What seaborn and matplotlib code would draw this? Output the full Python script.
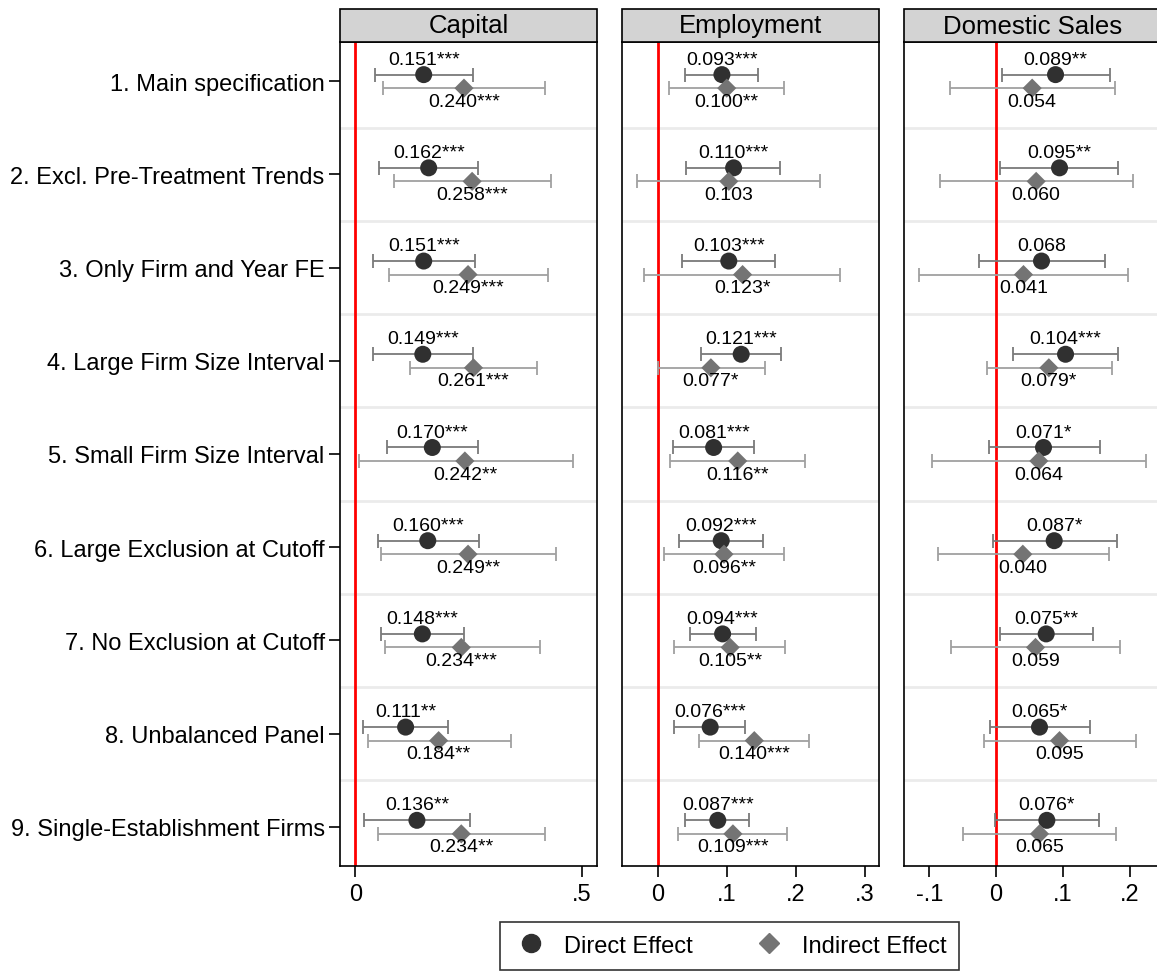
import numpy as np
import pandas as pd
import matplotlib
matplotlib.use("Agg")
import matplotlib.pyplot as plt
from matplotlib.patches import Rectangle
from matplotlib.lines import Line2D
import seaborn as sns

# specifications (rows)
specs = [
    "1. Main specification",
    "2. Excl. Pre-Treatment Trends",
    "3. Only Firm and Year FE",
    "4. Large Firm Size Interval",
    "5. Small Firm Size Interval",
    "6. Large Exclusion at Cutoff",
    "7. No Exclusion at Cutoff",
    "8. Unbalanced Panel",
    "9. Single-Establishment Firms",
]
outcomes = ["Capital", "Employment", "Domestic Sales"]

# Capital
cap_dir = [0.151, 0.162, 0.151, 0.149, 0.170, 0.160, 0.148, 0.111, 0.136]
cap_dir_lo = [0.044, 0.053, 0.039, 0.039, 0.070, 0.049, 0.057, 0.017, 0.018]
cap_dir_hi = [0.260, 0.272, 0.264, 0.260, 0.272, 0.274, 0.241, 0.205, 0.254]
cap_dir_star = ["***", "***", "***", "***", "***", "***", "***", "**", "**"]
cap_ind = [0.240, 0.258, 0.249, 0.261, 0.242, 0.249, 0.234, 0.184, 0.234]
cap_ind_lo = [0.062, 0.086, 0.075, 0.121, 0.007, 0.057, 0.066, 0.027, 0.049]
cap_ind_hi = [0.420, 0.432, 0.425, 0.402, 0.480, 0.444, 0.407, 0.344, 0.420]
cap_ind_star = ["***", "***", "***", "***", "**", "**", "***", "**", "**"]

# Employment
emp_dir = [0.093, 0.110, 0.103, 0.121, 0.081, 0.092, 0.094, 0.076, 0.087]
emp_dir_lo = [0.039, 0.041, 0.035, 0.063, 0.022, 0.031, 0.047, 0.024, 0.040]
emp_dir_hi = [0.145, 0.178, 0.170, 0.179, 0.140, 0.152, 0.142, 0.126, 0.133]
emp_dir_star = ["***", "***", "***", "***", "***", "***", "***", "***", "***"]
emp_ind = [0.100, 0.103, 0.123, 0.077, 0.116, 0.096, 0.105, 0.140, 0.109]
emp_ind_lo = [0.016, -0.030, -0.020, 0.000, 0.017, 0.009, 0.023, 0.060, 0.030]
emp_ind_hi = [0.183, 0.235, 0.265, 0.155, 0.213, 0.183, 0.185, 0.220, 0.188]
emp_ind_star = ["**", "", "*", "*", "**", "**", "**", "***", "***"]

# Domestic Sales
dom_dir = [0.089, 0.095, 0.068, 0.104, 0.071, 0.087, 0.075, 0.065, 0.076]
dom_dir_lo = [0.009, 0.006, -0.025, 0.026, -0.011, -0.004, 0.006, -0.009, -0.001]
dom_dir_hi = [0.170, 0.182, 0.163, 0.182, 0.155, 0.181, 0.145, 0.140, 0.154]
dom_dir_star = ["**", "**", "", "***", "*", "*", "**", "*", "*"]
dom_ind = [0.054, 0.060, 0.041, 0.079, 0.064, 0.040, 0.059, 0.095, 0.065]
dom_ind_lo = [-0.069, -0.084, -0.115, -0.014, -0.096, -0.087, -0.067, -0.018, -0.049]
dom_ind_hi = [0.178, 0.205, 0.198, 0.173, 0.225, 0.169, 0.185, 0.209, 0.179]
dom_ind_star = ["", "", "", "*", "", "", "", "", ""]

xticks = {
    "Capital": ([0, 0.5], ["0", ".5"]),
    "Employment": ([0, 0.1, 0.2, 0.3], ["0", ".1", ".2", ".3"]),
    "Domestic Sales": ([-0.1, 0, 0.1, 0.2], ["-.1", "0", ".1", ".2"]),
}
xlims = {
    "Capital": (-0.034, 0.534),
    "Employment": (-0.052, 0.321),
    "Domestic Sales": (-0.138, 0.247),
}

series = {
    "Capital": [(cap_dir, cap_dir_lo, cap_dir_hi, cap_dir_star),
                (cap_ind, cap_ind_lo, cap_ind_hi, cap_ind_star)],
    "Employment": [(emp_dir, emp_dir_lo, emp_dir_hi, emp_dir_star),
                   (emp_ind, emp_ind_lo, emp_ind_hi, emp_ind_star)],
    "Domestic Sales": [(dom_dir, dom_dir_lo, dom_dir_hi, dom_dir_star),
                       (dom_ind, dom_ind_lo, dom_ind_hi, dom_ind_star)],
}

effects = ["Direct Effect", "Indirect Effect"]
frames = []
for out in outcomes:
    for eff, (est, lo, hi, star) in zip(effects, series[out]):
        frames.append(pd.DataFrame({
            "outcome": out, "effect": eff, "spec": specs,
            "row": np.arange(1, len(specs) + 1),
            "est": est, "lo": lo, "hi": hi, "star": star,
        }))
df = pd.concat(frames, ignore_index=True)
df["ypos"] = df["row"] + np.where(df["effect"] == "Direct Effect", -0.07, 0.075)

sns.set_style("white")
plt.rcParams["font.family"] = ["Liberation Sans", "DejaVu Sans"]
plt.rcParams["text.color"] = "black"
plt.rcParams["xtick.color"] = "black"
plt.rcParams["ytick.color"] = "black"
plt.rcParams["axes.labelcolor"] = "black"

marker_col = {"Direct Effect": "#303030", "Indirect Effect": "#747474"}
ci_col = {"Direct Effect": "#7a7a7a", "Indirect Effect": "#a0a0a0"}
markers = {"Direct Effect": "o", "Indirect Effect": "D"}

fig = plt.figure(figsize=(11.57, 9.78), dpi=100)
lefts = [340 / 1157, 622 / 1157, 904 / 1157]
w = 257 / 1157
bottom = 111 / 978
h = 824 / 978

for i, out in enumerate(outcomes):
    ax = fig.add_axes([lefts[i], bottom, w, h])
    sub = df[df["outcome"] == out]

    for y in np.arange(1.5, 9.5, 1):
        ax.axhline(y, color="#ebebeb", lw=2, zorder=0)
    ax.axvline(0, color="red", lw=2, zorder=1)

    for eff in effects:
        s = sub[sub["effect"] == eff]
        ax.errorbar(s["est"], s["ypos"],
                    xerr=[s["est"] - s["lo"], s["hi"] - s["est"]],
                    fmt="none", ecolor=ci_col[eff], elinewidth=1.3,
                    capsize=5, capthick=1.3, zorder=2)

    sns.scatterplot(data=sub, x="est", y="ypos", hue="effect", style="effect",
                    markers=markers, palette=marker_col, s=150,
                    edgecolor="none", legend=False, ax=ax, zorder=3)
    # make diamonds a bit smaller than circles
    ax.collections[-1].set_sizes(np.where(sub["effect"] == "Direct Effect", 150, 95))

    for _, r in sub.iterrows():
        txt = f"{r['est']:.3f}{r['star']}"
        if r["effect"] == "Direct Effect":
            ax.text(r["est"], r["row"] - 0.235, txt, ha="center", va="center",
                    fontsize=14, color="black", zorder=4)
        else:
            ax.text(r["est"], r["row"] + 0.215, txt, ha="center", va="center",
                    fontsize=14, color="black", zorder=4)

    ax.set_xlim(*xlims[out])
    ax.set_ylim(9.42, 0.58)
    ax.set_xticks(xticks[out][0])
    ax.set_xticklabels(xticks[out][1], fontsize=17, color="black")
    ax.set_xlabel("")
    ax.set_ylabel("")
    if i == 0:
        ax.set_yticks(np.arange(1, 10))
        ax.set_yticklabels(specs, fontsize=17, color="black")
        ax.tick_params(axis="y", length=8, width=1.2, color="black", left=True, pad=3)
    else:
        ax.set_yticks([])
    ax.tick_params(axis="x", length=8, width=1.2, color="black", bottom=True, pad=4)

    for sp in ax.spines.values():
        sp.set_color("black")
        sp.set_linewidth(1.2)

    ax.add_patch(Rectangle((0, 1), 1, 33 / 824, transform=ax.transAxes,
                           facecolor="#d3d3d3", edgecolor="black", lw=1.2,
                           clip_on=False, zorder=5))
    ax.text(0.5, 1 + 16.5 / 824, out, transform=ax.transAxes, ha="center",
            va="center", fontsize=18.5, color="black", zorder=6)

handles = [
    Line2D([], [], marker="o", ls="none", color=marker_col["Direct Effect"],
           markersize=13, label="Direct Effect"),
    Line2D([], [], marker="D", ls="none", color=marker_col["Indirect Effect"],
           markersize=10, label="Indirect Effect"),
]
leg = fig.legend(handles=handles, loc="upper center", bbox_to_anchor=(0.6305, 0.0565),
                 ncol=2, fontsize=17, frameon=True, fancybox=False,
                 edgecolor="black", borderaxespad=0, columnspacing=2.4,
                 handletextpad=0.6, borderpad=0.55, handlelength=1.6)
leg.get_frame().set_linewidth(1.2)
for t in leg.get_texts():
    t.set_color("black")

fig.savefig("out.png", dpi=100, facecolor="white")
